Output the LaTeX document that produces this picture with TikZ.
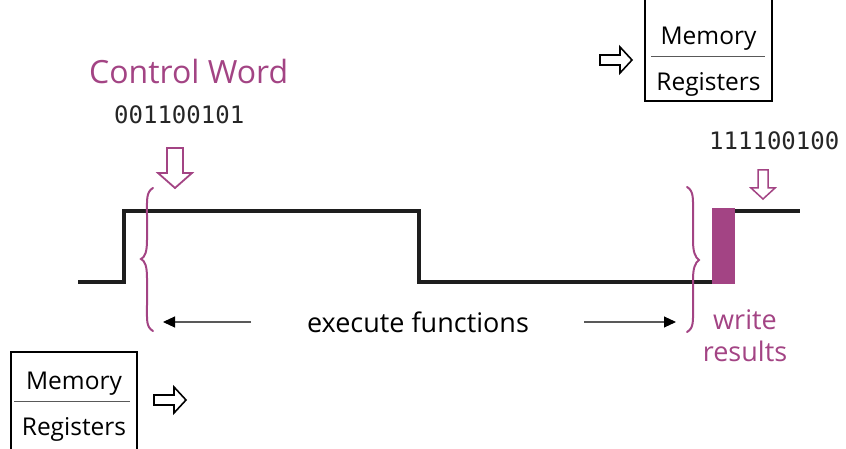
\documentclass[tikz,border=0pt]{standalone}
\usepackage{fontspec}
\setmainfont{Open Sans}
\newfontfamily\codefont{DejaVu Sans Mono}
\usetikzlibrary{arrows.meta}
\definecolor{plum}{RGB}{163,68,132}
\definecolor{wire}{RGB}{30,30,30}
\tikzset{
  signal/.style={line width=3.4pt, wire, line join=miter},
  brace/.style={plum, line width=2pt, line cap=round},
  hollowarrow/.style={draw=plum, line width=1.8pt, fill=white, line join=miter},
  hollowright/.style={draw=black, line width=1.6pt, fill=white, line join=miter},
  span/.style={draw=gray!70!black, line width=1.1pt, -{Triangle[length=12pt,width=11pt,color=black]}},
  label/.style={inner sep=0pt, anchor=base},
  memlabel/.style={label, font=\fontsize{24.5pt}{24.5pt}\selectfont},
  code/.style={label, font=\codefont\fontsize{24pt}{24pt}\selectfont, text=black!85},
}
\begin{document}
\begin{tikzpicture}[x=1pt, y=-1pt]
\clip (0,0) rectangle (846,449);

% clock waveform
\draw[signal] (78,282) -- (124,282) -- (124,211) -- (419,211) -- (419,282) -- (712,282);
\draw[signal] (735,211) -- (800,211);
\fill[plum] (712,208) rectangle (735,284);

% braces bounding the execution window
\draw[brace] (153,188) .. controls (146,192) and (147,200) .. (147,215)
  -- (147,240) .. controls (147,252) and (145,257) .. (141,259)
  .. controls (145,261) and (147,266) .. (147,278)
  -- (147,305) .. controls (147,320) and (146,327) .. (153,331);
\draw[brace] (687,187) .. controls (694,191) and (693,199) .. (693,214)
  -- (693,240) .. controls (693,252) and (695,257) .. (699,260)
  .. controls (695,263) and (693,268) .. (693,280)
  -- (693,306) .. controls (693,321) and (694,328) .. (687,332);

% execution span
\node[label, font=\fontsize{27pt}{27pt}\selectfont] (exec) at (418,332) {execute functions};
\coordinate (spanL0) at (251,322);
\coordinate (spanL1) at (163,322);
\coordinate (spanR0) at (584,322);
\coordinate (spanR1) at (676,322);
\draw[span] (spanL0) -- (spanL1);
\draw[span] (spanR0) -- (spanR1);

% write phase label
\node[label, plum, font=\fontsize{27pt}{27pt}\selectfont] (write) at (745,329) {write};
\node[label, plum, font=\fontsize{27pt}{27pt}\selectfont] (results) at (745,361) {results};

% control word
\node[label, plum, font=\fontsize{32pt}{32pt}\selectfont, anchor=base west] (cw) at (89,84) {Control Word};
\node[code, anchor=base west] (cwbits) at (114,124) {001100101};
\node[code, anchor=base west] (wbbits) at (709,150) {111100100};

% hollow down arrows
\draw[hollowarrow] (167,148) -- (183,148) -- (183,173) -- (192,173) -- (175,188)
  -- (158,173) -- (167,173) -- cycle;
\draw[hollowarrow, line width=1.5pt] (758,170) -- (768,170) -- (768,188) -- (775,188) -- (763,199)
  -- (751,188) -- (758,188) -- cycle;

% memory / registers boxes
\draw[line width=1.3pt] (645,-5) -- (645,101) -- (772,101) -- (772,-5);
\draw[gray!70!black, line width=1pt] (651,57) -- (765,57);
\node[memlabel] (memtop) at (708.5,45) {Memory};
\node[memlabel] (regtop) at (708.5,91) {Registers};

\draw[line width=1.3pt] (11,455) -- (11,352) -- (137,352) -- (137,455);
\draw[gray!70!black, line width=1pt] (14,401) -- (130,401);
\node[memlabel] (membot) at (74,389) {Memory};
\node[memlabel] (regbot) at (74,435) {Registers};

% hollow right arrows
\draw[hollowright] (600,55) -- (620,55) -- (620,47) -- (632,60) -- (620,73)
  -- (620,65) -- (600,65) -- cycle;
\draw[hollowright] (154,395) -- (174,395) -- (174,387) -- (186,400) -- (174,413)
  -- (174,405) -- (154,405) -- cycle;
\end{tikzpicture}
\end{document}
